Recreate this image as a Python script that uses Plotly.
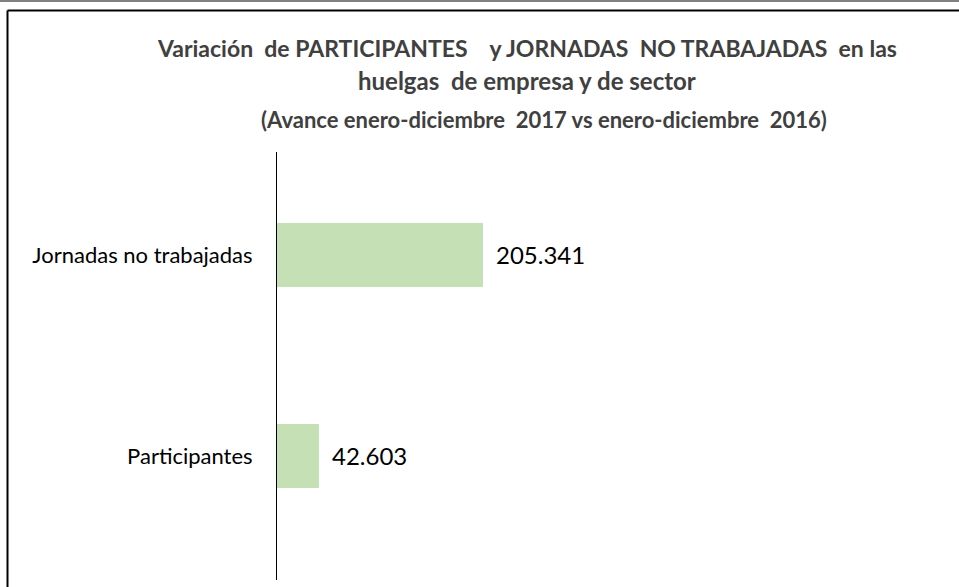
import plotly.graph_objects as go

categories = ["Participantes", "Jornadas no trabajadas"]
values = [42603, 205341]
title_lines = [
    "Variación  de PARTICIPANTES    y JORNADAS  NO TRABAJADAS  en las",
    "huelgas  de empresa y de sector",
    "(Avance enero-diciembre  2017 vs enero-diciembre  2016)",
]

W, H = 959, 587
FONT = "Lato"
BAR = "#c5e0b4"

def px(x):
    return x / W

def py(y):
    return 1 - y / H

fig = go.Figure()
fig.add_trace(go.Bar(
    x=values, y=categories, orientation="h",
    marker=dict(color=BAR, line=dict(width=0)),
    width=0.318, hoverinfo="skip",
))

for c, v in zip(categories, values):
    fig.add_annotation(
        x=v, y=c, xref="x", yref="y", text=f"{v:,}".replace(",", "."),
        showarrow=False, xanchor="left", yanchor="middle", xshift=11,
        font=dict(family=FONT, size=24, color="#000000"),
    )

title_pos = [(527, 48), (527, 80), (544, 119)]
title_sizes = [23, 24, 22]
for t, (x, y), s in zip(title_lines, title_pos, title_sizes):
    fig.add_annotation(
        x=px(x), y=py(y), xref="paper", yref="paper", text=f"<b>{t}</b>",
        showarrow=False, xanchor="center", yanchor="middle",
        font=dict(family=FONT, size=s, color="#404040"),
    )

# white cover on the right edge
fig.add_shape(type="rect", xref="paper", yref="paper", layer="above",
              x0=px(944), x1=1, y0=0, y1=py(12),
              fillcolor="white", line=dict(width=0))
# axis line
fig.add_shape(type="line", xref="x", yref="paper", x0=0, x1=0,
              y0=py(580), y1=py(152), line=dict(color="#000000", width=2))
# outer border (top and left edges visible)
fig.add_shape(type="line", xref="paper", yref="paper",
              x0=px(7.5), x1=1, y0=py(10.5), y1=py(10.5),
              line=dict(color="#000000", width=2))
fig.add_shape(type="line", xref="paper", yref="paper",
              x0=px(7.5), x1=px(7.5), y0=0, y1=py(10.5),
              line=dict(color="#000000", width=2))
fig.add_shape(type="line", xref="paper", yref="paper",
              x0=0, x1=1, y0=py(1), y1=py(1),
              line=dict(color="#808080", width=2))

fig.update_layout(
    width=W, height=H,
    margin=dict(l=0, r=0, t=0, b=0),
    paper_bgcolor="white", plot_bgcolor="white",
    showlegend=False,
    xaxis=dict(domain=[px(276), px(940)], range=[0, 658700],
               showgrid=False, zeroline=False, showline=False,
               showticklabels=False, ticks=""),
    yaxis=dict(domain=[py(580), py(152)], range=[-0.617, 1.512],
               showgrid=False, zeroline=False, showline=False,
               ticks="outside", ticklen=18, tickcolor="rgba(0,0,0,0)",
               tickfont=dict(family=FONT, size=22, color="#000000")),
)

fig.write_html(
    "out.html", config={"displayModeBar": False},
    post_script=("document.body.style.margin='0';"
                 "document.body.style.overflow='hidden';"
                 "document.documentElement.style.overflow='hidden';"),
)
